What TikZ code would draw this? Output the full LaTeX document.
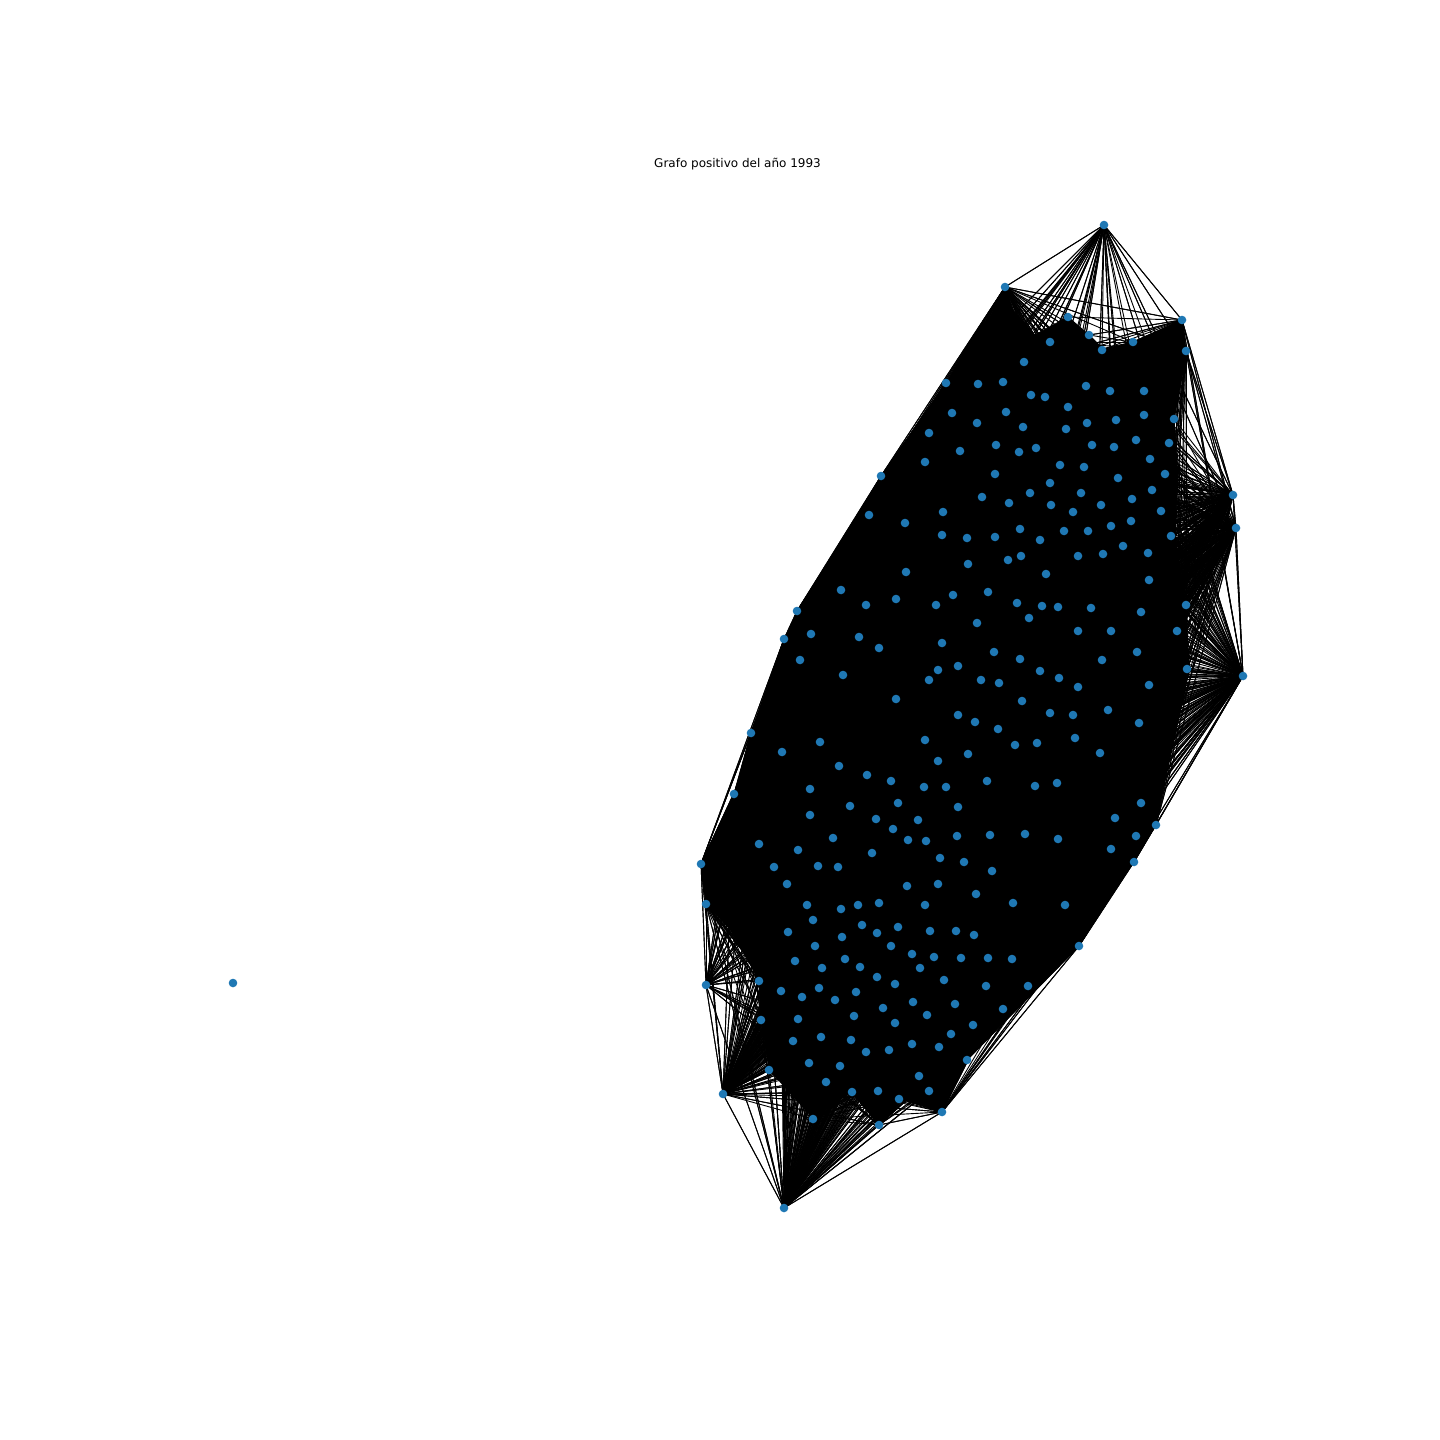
\documentclass[tikz,border=0pt]{standalone}
\usepackage{fontspec}
\setmainfont{DejaVu Sans}
\usetikzlibrary{backgrounds}
\definecolor{nodeblue}{HTML}{1F78B4}
\newcommand\myedge[2]{\draw[edge] (n#1.center) -- (n#2.center);}
\begin{document}
\begin{tikzpicture}[x=1pt,y=-1pt,
  dot/.style={circle,fill=nodeblue,inner sep=0pt,minimum size=8.6pt},
  edge/.style={black,line width=0.9pt}]
\useasboundingbox (0,0) rectangle (1440,1440);
\node[font=\fontsize{12}{14}\selectfont,anchor=base,inner sep=0pt] (title) at (737.5,167) {Grafo positivo del año 1993};
\foreach \x/\y [count=\i] in {
1104/225,1182/320,1186/351,1233/495,1236/528,1243/676,1156/825,1134/862,1079/946,967/1060,
942/1112,879/1125,784/1208,723/1094,706/985,706/904,701/864,734/794,751/733,784/639,
797/611,881/476,946/383,1005/287,
1068/317,1089/335,1050/342,1102/350,1133/342,1024/362,1174/419,1165/474,1171/536,1186/605,
1187/669,1177/631,1141/803,1136/836,1111/849,813/1119,899/1099,929/1091,769/1070,761/1020,
759/981,759/844,782/752,869/515,925/462,1161/511,1152/490,1149/685,1115/818,852/1092,878/1091,
1086/386,978/384,1003/382,1031/395,1045/397,1110/391,1144/391,1006/412,1068/407,977/423,
1023/427,1066/429,1087/423,1116/420,1144/415,996/445,1019/452,1036/448,1092/445,1114/447,
1136/440,1169/443,1150/459,1060/465,1084/467,952/413,929/433,960/451,
905/523,943/512,942/535,967/538,968/564,906/572,841/590,811/634,800/660,866/605,896/599,
936/605,953/595,859/637,879/648,942/643,843/675,938/670,958/666,929/680,896/699,958/715,
995/474,1118/478,1050/483,982/497,1009/503,1030/493,1051/505,1081/493,1101/505,1073/512,
1132/499,1020/529,1064/531,1088/531,1111/526,1131/521,995/537,1040/540,1123/546,1148/553,
1008/560,1021/556,1078/556,1103/554,1046/574,1149/580,988/592,1017/603,1042/606,1058/607,
1091/608,1029/618,977/623,1141/612,1078/631,1111/631,994/652,1020/659,1102/660,1137/652,
1040/671,1059/678,981/680,999/683,1078/687,1022/701,1050/713,1073/715,1108/710,
820/742,925/740,968/754,938/761,839/766,867/775,891/781,924/787,946/787,810/789,850/806,
898/803,958/807,810/815,876/819,918/820,893/829,833/838,908/840,926/841,957/836,798/850,
872/853,940/858,964/862,774/867,818/866,838/867,787/884,907/886,938/884,807/905,841/909,
858/905,879/903,925/905,813/920,862/925,877/933,898/927,788/932,842/937,930/931,956/931,
815/946,891/946,912/954,934/957,961/958,795/961,845/959,822/968,860/967,920/968,
975/722,998/729,1139/723,1015/745,1037/743,1075/738,1100/753,987/781,1035/786,1057/783,
990/835,1025/834,1058/839,992/871,976/894,1013/903,1065/905,974/935,988/958,1012/959,
877/977,895/984,944/980,781/991,802/997,819/988,835/1000,856/992,913/1002,955/1004,
798/1019,854/1016,883/1008,895/1023,927/1015,951/1034,793/1041,821/1037,851/1040,866/1052,
889/1050,912/1044,939/1047,809/1063,840/1066,919/1076,826/1082,
986/986,1028/986,1003/1009,973/1025}
{\node[dot] (n\i) at (\x,\y) {}; \xdef\N{\i}}
\node[dot] (iso) at (233,983) {};
\begin{pgfonlayer}{background}
\fill[black] (977,330) -- (1005,300) -- (1035,335) -- (1068,317) -- (1089,335) -- (1102,350)
 -- (1133,342) -- (1182,320) -- (1186,351) -- (1174,419) -- (1178,470) -- (1175,536)
 -- (1186,605) -- (1190,669) -- (1156,825) -- (1134,862) -- (1079,946) -- (967,1060)
 -- (942,1112) -- (899,1099) -- (879,1125) -- (852,1092) -- (813,1119) -- (769,1070)
 -- (761,1020) -- (759,981) -- (730,930) -- (706,904) -- (701,864) -- (734,794)
 -- (751,733) -- (784,639) -- (797,611) -- (881,476) -- (946,383) -- cycle;
\foreach \h in {1,...,55}{
  \foreach \j in {1,...,\N}{
    \edef\r{\the\numexpr \h*37+\j*53+\h*\j*17\relax}%
    \edef\m{\the\numexpr \r-7*(\r/7)\relax}%
    \ifnum\h<25
      \ifnum\m<1 \myedge{\h}{\j}\else\ifnum\j<25 \myedge{\h}{\j}\fi\fi
    \else
      \ifnum\m<0 \myedge{\h}{\j}\fi
    \fi
  }
}
\end{pgfonlayer}
\end{tikzpicture}
\end{document}
